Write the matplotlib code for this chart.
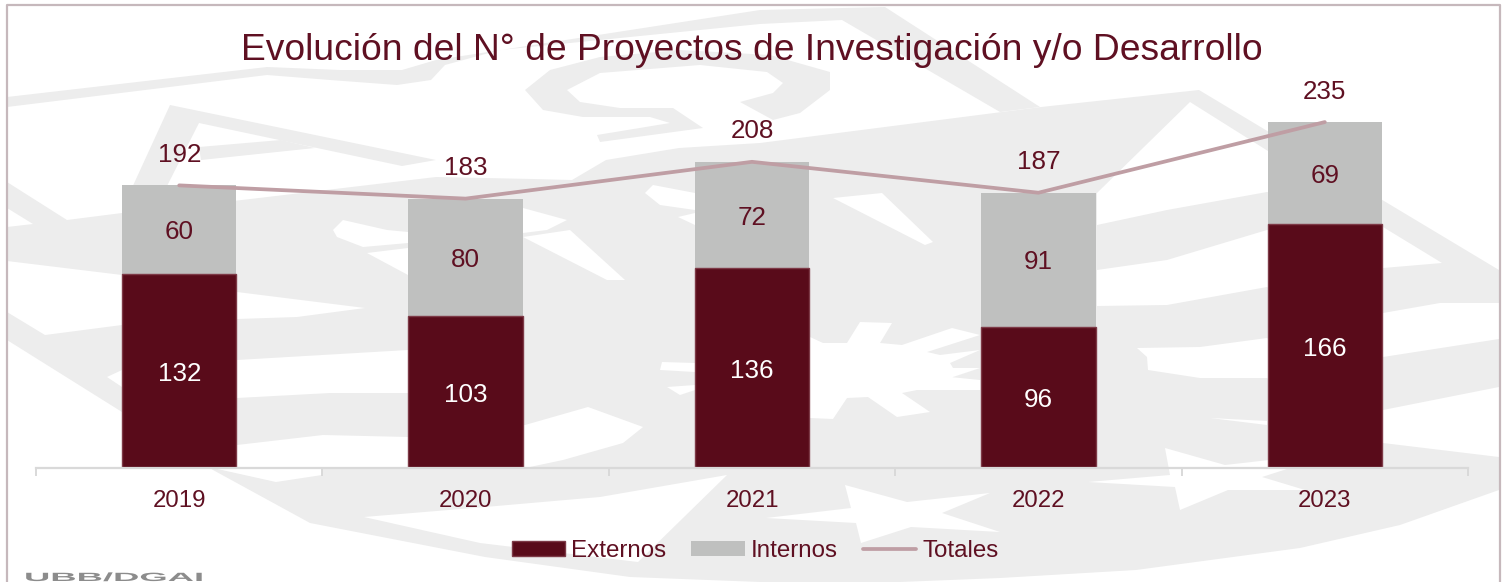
import matplotlib
matplotlib.use('Agg')
import matplotlib.pyplot as plt
from matplotlib.patches import Polygon, Patch
from matplotlib.lines import Line2D
from matplotlib.patheffects import AbstractPathEffect
from matplotlib.transforms import Affine2D

plt.rcParams['font.family'] = ['Liberation Sans', 'DejaVu Sans']

years = ['2019', '2020', '2021', '2022', '2023']
externos = [132, 103, 136, 96, 166]
internos = [60, 80, 72, 91, 69]
totales = [192, 183, 208, 187, 235]

WINE = '#590b1a'
TEXT = '#5f1022'
GREY = '#bfc0bf'
ROSE = '#bf9ea4'
MARK = '#ededed'
W, H = 1506, 582

# escudo de fondo, en pixeles de la imagen
mark_grey = [
    # banda superior
    [(7, 97), (267, 67), (340, 70), (402, 70), (436, 60), (760, 10), (885, 7), (1040, 107), (1000, 112), (842, 20),
     (760, 24), (500, 50), (445, 65), (431, 80), (397, 85), (330, 80), (267, 75), (7, 107)],
    # triangulo sobre 2019
    [(170, 105), (436, 160), (402, 166), (199, 123), (165, 190), (131, 190)],
    [(199, 147), (281, 140), (315, 148), (201, 160)],
    # omega
    [(525, 90), (550, 70), (600, 57), (680, 50), (770, 55), (830, 72), (830, 90), (800, 113), (773, 120), (740, 102),
     (773, 93), (783, 83), (767, 72), (700, 65), (600, 73), (567, 90), (580, 102), (620, 108), (673, 108),
     (703, 128), (600, 142), (597, 135), (670, 123), (650, 117), (583, 117), (543, 110)],
    # campo grande
    [(7, 182), (67, 220), (122, 213), (242, 200), (436, 177), (533, 179), (572, 180), (606, 160), (679, 148),
     (760, 143), (1041, 107), (1199, 90), (1499, 270), (1499, 490), (1400, 525), (1300, 548), (1136, 570),
     (1000, 578), (900, 582), (760, 582), (630, 577), (485, 557), (310, 523), (213, 470), (122, 412), (7, 340)],
]
mark_white = [
    [(7, 208), (33, 224), (7, 227)],
    [(7, 261), (122, 275), (237, 292), (365, 308), (297, 317), (237, 319), (122, 325), (45, 335), (7, 312)],
    [(107, 377), (122, 370), (237, 360), (408, 350), (440, 348), (440, 393), (408, 393), (330, 393), (237, 398),
     (122, 387)],
    [(210, 468), (237, 445), (323, 435), (408, 437), (525, 425), (588, 407), (643, 427), (623, 443), (563, 460),
     (525, 468)],
    [(213, 468), (322, 468), (322, 475), (276, 482)],
    [(364, 517), (485, 507), (600, 497), (727, 475), (638, 562), (480, 543)],
    # blancos del centro
    [(333, 230), (343, 220), (387, 230), (408, 232), (408, 243), (363, 247), (337, 237)],
    [(523, 208), (567, 220), (547, 230), (523, 233)],
    [(367, 253), (408, 248), (408, 275)],
    [(523, 237), (570, 230), (625, 280), (607, 280)],
    [(645, 193), (653, 185), (695, 193), (695, 210), (660, 205)],
    [(678, 217), (695, 213), (695, 225)],
    [(662, 362), (695, 363), (695, 372), (660, 370)],
    [(667, 387), (695, 385), (695, 390), (680, 395)],
    [(833, 198), (882, 193), (933, 242), (925, 245)],
    # estrella central
    [(810, 337), (823, 343), (847, 343), (860, 322), (892, 323), (880, 343), (902, 345), (952, 328), (980, 335),
     (927, 352), (940, 355), (980, 350), (950, 363), (953, 368), (980, 368), (938, 382), (950, 377), (980, 380),
     (980, 390), (917, 390), (902, 393), (930, 412), (897, 417), (868, 397), (847, 398), (833, 419), (810, 418)],
    # franjas de la derecha
    [(1190, 102), (1330, 190), (1330, 200), (1267, 192), (1167, 210), (1097, 225), (1097, 193)],
    [(1383, 227), (1442, 263), (1383, 268), (1330, 195)],
    [(1097, 270), (1167, 260), (1267, 230), (1330, 240), (1383, 313), (1440, 303), (1499, 303), (1499, 339),
     (1383, 357), (1267, 287), (1167, 305), (1097, 306)],
    [(1137, 348), (1200, 347), (1267, 338), (1383, 410), (1499, 387), (1499, 457), (1383, 443), (1267, 378),
     (1200, 378), (1148, 370), (1147, 357)],
    [(1210, 418), (1267, 425), (1267, 421)],
    # estrellas de abajo
    [(845, 485), (907, 502), (990, 493), (942, 513), (1000, 532), (911, 527), (861, 543), (856, 523), (766, 518),
     (851, 508)],
    [(1165, 448), (1225, 465), (1340, 452), (1262, 477), (1305, 490), (1228, 490), (1180, 510), (1175, 487),
     (1088, 482), (1170, 475)],
]


class StretchX(AbstractPathEffect):
    # el rotulo UBB/DGAI va ensanchado en el original
    def __init__(self, x0, sx):
        super().__init__()
        self.x0, self.sx = x0, sx

    def draw_path(self, renderer, gc, tpath, affine, rgbFace=None):
        aff = affine + Affine2D().translate(-self.x0, 0).scale(self.sx, 1).translate(self.x0, 0)
        renderer.draw_path(gc, tpath, aff, rgbFace)


fig = plt.figure(figsize=(W / 100, H / 100), dpi=100, facecolor='white')

bg = fig.add_axes([0, 0, 1, 1], zorder=0)
bg.set_xlim(0, W)
bg.set_ylim(H, 0)
bg.axis('off')
for pts in mark_grey:
    bg.add_patch(Polygon(pts, closed=True, fc=MARK, ec='none', zorder=1))
for pts in mark_white:
    bg.add_patch(Polygon(pts, closed=True, fc='white', ec='none', zorder=2))
bg.plot([7, 7, 1500, 1500], [582, 5, 5, 582], color='#c6b8bc', lw=1.6, zorder=3)

ax = fig.add_axes([36 / W, (H - 468) / H, (1468 - 36) / W, 468 / H], zorder=1)
ax.patch.set_alpha(0)
x = list(range(len(years)))
ax.bar(x, externos, width=0.40, color=WINE, edgecolor='#7d3a47', linewidth=1, label='Externos', zorder=2)
ax.bar(x, internos, width=0.40, bottom=externos, color=GREY, label='Internos', zorder=1.5)
ax.plot(x, totales, color=ROSE, lw=2.7, solid_capstyle='round', label='Totales', zorder=3)

for i in x:
    ax.annotate(str(externos[i]), (i, externos[i] / 2), xytext=(0, -2), textcoords='offset points', color='white',
                fontsize=18.7, ha='center', va='center', zorder=4)
    ax.annotate(str(internos[i]), (i, externos[i] + internos[i] / 2), xytext=(0, -2), textcoords='offset points',
                color=TEXT, fontsize=18.7, ha='center', va='center', zorder=4)
    ax.annotate(str(totales[i]), (i, totales[i]), xytext=(0, 22), textcoords='offset points', color=TEXT,
                fontsize=18.7, ha='center', va='center', zorder=4)

ax.set_xlim(-0.5, 4.5)
ax.set_ylim(0, 468 / 1.472)
ax.set_xticks(x)
ax.set_xticklabels(years, color=TEXT, fontsize=17.3)
ax.set_xticks([i - 0.5 for i in range(len(years) + 1)], minor=True)
ax.tick_params(axis='x', which='major', length=0, pad=15.7)
ax.tick_params(axis='x', which='minor', length=5.5, width=1.4, color='#d9d9d9')
ax.set_yticks([])
for s in ['top', 'left', 'right']:
    ax.spines[s].set_visible(False)
ax.spines['bottom'].set_color('#d9d9d9')
ax.spines['bottom'].set_linewidth(1.6)

fig.text(752 / W, 1 - 59.5 / H, 'Evolución del N° de Proyectos de Investigación y/o Desarrollo', color=TEXT,
         fontsize=26.85, ha='center', va='baseline')

handles = [Patch(fc=WINE, ec='#7d3a47', lw=1, label='Externos'), Patch(fc=GREY, label='Internos'),
           Line2D([], [], color=ROSE, lw=2.7, solid_capstyle='round', label='Totales')]
leg = fig.legend(handles=handles, ncol=3, loc='center', bbox_to_anchor=(755 / W, 1 - 551 / H), frameon=False,
                 fontsize=17.4, handlelength=2.2, handleheight=0.6, handletextpad=0.25, columnspacing=1.05,
                 borderpad=0, labelcolor=TEXT)

fig.text(24 / W, 1 - 581 / H, 'UBB/DGAI', color='#8c8c8c', fontsize=8.6, fontweight='bold', ha='left',
         va='baseline', path_effects=[StretchX(24, 3.05)])

fig.savefig('out.png', dpi=100)
